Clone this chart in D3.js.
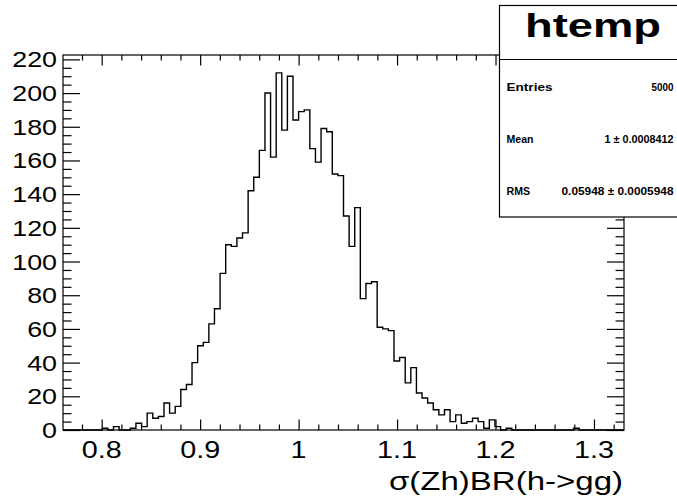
<!DOCTYPE html>
<html>
<head>
<meta charset="utf-8">
<title>htemp</title>
<script src="https://cdn.jsdelivr.net/npm/d3@7"></script>
<style>
  body { margin: 0; background: #fff; overflow: hidden; }
  text { font-family: "Liberation Sans", Arial, sans-serif; fill: #000; }
</style>
</head>
<body>
<script>
// histogram range, 100 bins
const binLow = 0.7607;
const binHigh = 1.3305;
const counts = [
  0, 0, 0, 0, 0, 0, 0, 1, 0, 2,
  0, 0, 1, 4, 2, 10, 7, 8, 16, 10,
  14, 24, 27, 40, 50, 52, 63, 72, 93, 110,
  109, 114, 117, 142, 150, 166, 200, 162, 212, 178,
  210, 184, 189, 190, 167, 159, 179, 177, 152, 151,
  127, 109, 132, 78, 87, 88, 61, 60, 59, 41,
  43, 28, 37, 22, 19, 16, 12, 9, 12, 5,
  9, 4, 5, 7, 5, 1, 6, 2, 0, 1,
  0, 0, 0, 0, 0, 0, 0, 0, 0, 0,
  0, 1, 0, 0, 0, 0, 0, 0, 0, 0
];
const yMax = 222.6;
const xMajor = [0.8, 0.9, 1.0, 1.1, 1.2, 1.3];
const xLabels = ["0.8", "0.9", "1", "1.1", "1.2", "1.3"];
const yMajor = [0, 20, 40, 60, 80, 100, 120, 140, 160, 180, 200, 220];
const xTitle = "\u03c3(Zh)BR(h->gg)";
const histName = "htemp";
const statNames = ["Entries", "Mean", "RMS"];
const statValues = ["5000", "1 \u00b1 0.0008412", "0.05948 \u00b1 0.0005948"];

const W = 677, H = 502;
const padL = 63, padR = 624, padT = 55, padB = 430;

const svg = d3.select("body").append("svg")
  .attr("width", W)
  .attr("height", H);

const x = d3.scaleLinear().domain([binLow, binHigh]).range([padL, padR]);
const y = d3.scaleLinear().domain([0, yMax]).range([padB, padT]);

const binW = (binHigh - binLow) / counts.length;

// minor tick values
const xMinor = d3.range(0.78, 1.3301, 0.02).filter(v => !xMajor.some(m => Math.abs(m - v) < 1e-6));
const yMinor = d3.range(0, 222, 5).filter(v => v % 20 !== 0);

// stretched text like the original (glyphs look wide)
function wideText(str, px, py, anchor, size, sx, weight) {
  svg.append("text")
    .attr("transform", "translate(" + px + "," + py + ") scale(" + sx + ",1)")
    .attr("text-anchor", anchor)
    .attr("font-size", size)
    .attr("font-weight", weight || "normal")
    .text(str);
}

// histogram step line
const line = d3.line().curve(d3.curveStepAfter)
  .x(d => x(d[0]))
  .y(d => y(d[1]));
const pts = counts.map((c, i) => [binLow + i * binW, c]);
pts.push([binHigh, counts[counts.length - 1]]);
svg.append("path")
  .attr("d", line(pts))
  .attr("fill", "none")
  .attr("stroke", "#000")
  .attr("stroke-width", 1.4);

// axes with inward ticks
function tickAxis(axisFn, scale, vals, size, tr) {
  svg.append("g")
    .attr("transform", tr)
    .call(axisFn(scale).tickValues(vals).tickSize(size).tickFormat(""))
    .call(g => g.select(".domain").remove())
    .selectAll("line").attr("stroke", "#000").attr("stroke-width", 1.2);
}
tickAxis(d3.axisBottom, x, xMajor, -10.5, "translate(0," + padB + ")");
tickAxis(d3.axisBottom, x, xMinor, -5.5, "translate(0," + padB + ")");
tickAxis(d3.axisTop, x, xMajor, -10.5, "translate(0," + padT + ")");
tickAxis(d3.axisTop, x, xMinor, -5.5, "translate(0," + padT + ")");
tickAxis(d3.axisLeft, y, yMajor, -17, "translate(" + padL + ",0)");
tickAxis(d3.axisLeft, y, yMinor, -8.5, "translate(" + padL + ",0)");
tickAxis(d3.axisRight, y, yMajor, -17, "translate(" + padR + ",0)");
tickAxis(d3.axisRight, y, yMinor, -8.5, "translate(" + padR + ",0)");

// frame
svg.append("rect")
  .attr("x", padL).attr("y", padT)
  .attr("width", padR - padL).attr("height", padB - padT)
  .attr("fill", "none").attr("stroke", "#000").attr("stroke-width", 1.2);

// tick labels
yMajor.forEach(v => wideText(String(v), 57, y(v) + 8, "end", 22, 1.22));
xMajor.forEach((v, i) => wideText(xLabels[i], x(v), 458, "middle", 23, 1.25));

// axis title
wideText(xTitle, 623, 490, "end", 26, 1.27);

// stats box (runs off the right edge, as in the original)
const box = svg.append("g");
box.append("rect")
  .attr("x", 499.5).attr("y", 5.5)
  .attr("width", 200).attr("height", 211.5)
  .attr("fill", "#fff").attr("stroke", "#000").attr("stroke-width", 1.2);
box.append("line")
  .attr("x1", 499.5).attr("x2", 677)
  .attr("y1", 59.5).attr("y2", 59.5)
  .attr("stroke", "#000").attr("stroke-width", 1.2);
box.append("text")
  .attr("x", 593).attr("y", 37)
  .attr("text-anchor", "middle")
  .attr("font-size", 33).attr("font-weight", "bold")
  .attr("textLength", 136).attr("lengthAdjust", "spacingAndGlyphs")
  .text(histName);

const rowY = [91, 143, 195];
const nameW = [46, 27, 23.5];
const valW = [22, 69, 112];
statNames.forEach((s, i) => {
  box.append("text")
    .attr("x", 506.5).attr("y", rowY[i])
    .attr("font-size", 11).attr("font-weight", "bold")
    .attr("textLength", nameW[i]).attr("lengthAdjust", "spacingAndGlyphs")
    .text(s);
  box.append("text")
    .attr("x", 673.5 - valW[i]).attr("y", rowY[i])
    .attr("font-size", 11).attr("font-weight", "bold")
    .attr("textLength", valW[i]).attr("lengthAdjust", "spacingAndGlyphs")
    .text(statValues[i]);
});
</script>
</body>
</html>
